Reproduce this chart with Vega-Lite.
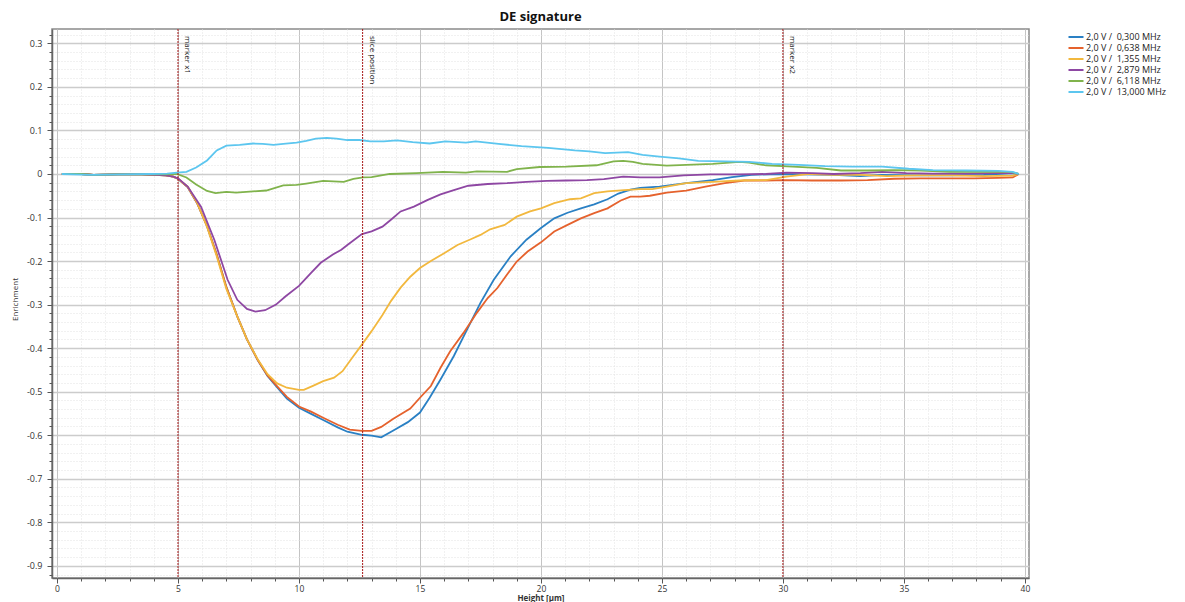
{
  "$schema": "https://vega.github.io/schema/vega-lite/v6.json",
  "width": 977,
  "height": 549,
  "autosize": "none",
  "padding": {"left": 52, "top": 29, "right": 156, "bottom": 24},
  "background": "white",
  "title": {"text": "DE signature", "fontSize": 13, "font": "Open Sans", "fontWeight": "bold", "color": "#111", "offset": 5, "anchor": "middle"},
  "config": {"view": {"stroke": "#8a8a8a", "strokeWidth": 1.5}, "font": "Open Sans"},
  "datasets": {
    "curves": [
      {"f":"0,300","x":0.2,"y":0},{"f":"0,300","x":1,"y":0},{"f":"0,300","x":1.5,"y":-0.002},{"f":"0,300","x":2.5,"y":-0.001},{"f":"0,300","x":3.5,"y":-0.001},{"f":"0,300","x":4,"y":-0.002},{"f":"0,300","x":4.5,"y":-0.003},{"f":"0,300","x":4.8,"y":-0.006},{"f":"0,300","x":5,"y":-0.011},{"f":"0,300","x":5.4,"y":-0.03},{"f":"0,300","x":5.8,"y":-0.068},{"f":"0,300","x":6.2,"y":-0.12},{"f":"0,300","x":6.6,"y":-0.185},{"f":"0,300","x":7,"y":-0.26},{"f":"0,300","x":7.45,"y":-0.327},{"f":"0,300","x":7.85,"y":-0.38},{"f":"0,300","x":8.3,"y":-0.428},{"f":"0,300","x":8.7,"y":-0.464},{"f":"0,300","x":9.1,"y":-0.49},{"f":"0,300","x":9.5,"y":-0.516},{"f":"0,300","x":10,"y":-0.537},{"f":"0,300","x":10.5,"y":-0.551},{"f":"0,300","x":11,"y":-0.565},{"f":"0,300","x":11.6,"y":-0.582},{"f":"0,300","x":12,"y":-0.592},{"f":"0,300","x":12.6,"y":-0.599},{"f":"0,300","x":13,"y":-0.601},{"f":"0,300","x":13.4,"y":-0.605},{"f":"0,300","x":13.9,"y":-0.589},{"f":"0,300","x":14.5,"y":-0.57},{"f":"0,300","x":15,"y":-0.548},{"f":"0,300","x":15.4,"y":-0.514},{"f":"0,300","x":15.85,"y":-0.472},{"f":"0,300","x":16.4,"y":-0.418},{"f":"0,300","x":16.95,"y":-0.357},{"f":"0,300","x":17.5,"y":-0.296},{"f":"0,300","x":18.05,"y":-0.243},{"f":"0,300","x":18.75,"y":-0.189},{"f":"0,300","x":19.4,"y":-0.151},{"f":"0,300","x":20,"y":-0.124},{"f":"0,300","x":20.55,"y":-0.102},{"f":"0,300","x":21.1,"y":-0.089},{"f":"0,300","x":21.65,"y":-0.079},{"f":"0,300","x":22.2,"y":-0.07},{"f":"0,300","x":22.75,"y":-0.058},{"f":"0,300","x":23.2,"y":-0.045},{"f":"0,300","x":23.7,"y":-0.036},{"f":"0,300","x":24.1,"y":-0.032},{"f":"0,300","x":24.9,"y":-0.029},{"f":"0,300","x":26,"y":-0.021},{"f":"0,300","x":27.1,"y":-0.014},{"f":"0,300","x":27.9,"y":-0.007},{"f":"0,300","x":28.7,"y":-0.002},{"f":"0,300","x":29.8,"y":0},{"f":"0,300","x":30.9,"y":-0.001},{"f":"0,300","x":32.1,"y":-0.002},{"f":"0,300","x":33.2,"y":-0.005},{"f":"0,300","x":34.1,"y":-0.002},{"f":"0,300","x":35.5,"y":-0.003},{"f":"0,300","x":36.9,"y":-0.003},{"f":"0,300","x":38.3,"y":-0.002},{"f":"0,300","x":39.5,"y":0.002},{"f":"0,300","x":39.75,"y":0},

      {"f":"0,638","x":0.2,"y":0},{"f":"0,638","x":1,"y":0},{"f":"0,638","x":1.5,"y":-0.002},{"f":"0,638","x":2.5,"y":-0.001},{"f":"0,638","x":3.5,"y":-0.001},{"f":"0,638","x":4,"y":-0.002},{"f":"0,638","x":4.5,"y":-0.003},{"f":"0,638","x":4.8,"y":-0.006},{"f":"0,638","x":5,"y":-0.011},{"f":"0,638","x":5.4,"y":-0.03},{"f":"0,638","x":5.8,"y":-0.068},{"f":"0,638","x":6.2,"y":-0.12},{"f":"0,638","x":6.6,"y":-0.185},{"f":"0,638","x":7,"y":-0.26},{"f":"0,638","x":7.45,"y":-0.327},{"f":"0,638","x":7.85,"y":-0.38},{"f":"0,638","x":8.3,"y":-0.428},{"f":"0,638","x":8.7,"y":-0.463},{"f":"0,638","x":9.1,"y":-0.488},{"f":"0,638","x":9.5,"y":-0.512},{"f":"0,638","x":10,"y":-0.534},{"f":"0,638","x":10.5,"y":-0.546},{"f":"0,638","x":11,"y":-0.56},{"f":"0,638","x":11.6,"y":-0.576},{"f":"0,638","x":12.1,"y":-0.587},{"f":"0,638","x":12.6,"y":-0.59},{"f":"0,638","x":13,"y":-0.59},{"f":"0,638","x":13.4,"y":-0.581},{"f":"0,638","x":13.9,"y":-0.562},{"f":"0,638","x":14.6,"y":-0.539},{"f":"0,638","x":15,"y":-0.514},{"f":"0,638","x":15.45,"y":-0.487},{"f":"0,638","x":15.85,"y":-0.445},{"f":"0,638","x":16.25,"y":-0.407},{"f":"0,638","x":16.8,"y":-0.365},{"f":"0,638","x":17.35,"y":-0.319},{"f":"0,638","x":17.8,"y":-0.285},{"f":"0,638","x":18.2,"y":-0.262},{"f":"0,638","x":18.6,"y":-0.231},{"f":"0,638","x":19,"y":-0.201},{"f":"0,638","x":19.45,"y":-0.178},{"f":"0,638","x":20,"y":-0.157},{"f":"0,638","x":20.55,"y":-0.132},{"f":"0,638","x":21.1,"y":-0.117},{"f":"0,638","x":21.65,"y":-0.102},{"f":"0,638","x":22.2,"y":-0.09},{"f":"0,638","x":22.75,"y":-0.079},{"f":"0,638","x":23.3,"y":-0.061},{"f":"0,638","x":23.7,"y":-0.052},{"f":"0,638","x":24.1,"y":-0.052},{"f":"0,638","x":24.5,"y":-0.05},{"f":"0,638","x":25.2,"y":-0.043},{"f":"0,638","x":26,"y":-0.038},{"f":"0,638","x":26.8,"y":-0.029},{"f":"0,638","x":27.6,"y":-0.021},{"f":"0,638","x":28.4,"y":-0.015},{"f":"0,638","x":29.3,"y":-0.015},{"f":"0,638","x":30.15,"y":-0.014},{"f":"0,638","x":31.2,"y":-0.015},{"f":"0,638","x":32.4,"y":-0.015},{"f":"0,638","x":33.5,"y":-0.014},{"f":"0,638","x":34.6,"y":-0.011},{"f":"0,638","x":35.7,"y":-0.01},{"f":"0,638","x":36.8,"y":-0.01},{"f":"0,638","x":37.9,"y":-0.01},{"f":"0,638","x":38.9,"y":-0.009},{"f":"0,638","x":39.5,"y":-0.008},{"f":"0,638","x":39.75,"y":0},

      {"f":"1,355","x":0.2,"y":0},{"f":"1,355","x":1,"y":0},{"f":"1,355","x":1.5,"y":-0.002},{"f":"1,355","x":2.5,"y":-0.001},{"f":"1,355","x":3.5,"y":-0.001},{"f":"1,355","x":4,"y":-0.002},{"f":"1,355","x":4.5,"y":-0.003},{"f":"1,355","x":4.8,"y":-0.006},{"f":"1,355","x":5,"y":-0.011},{"f":"1,355","x":5.4,"y":-0.029},{"f":"1,355","x":5.8,"y":-0.067},{"f":"1,355","x":6.2,"y":-0.121},{"f":"1,355","x":6.6,"y":-0.189},{"f":"1,355","x":7,"y":-0.264},{"f":"1,355","x":7.45,"y":-0.327},{"f":"1,355","x":7.85,"y":-0.38},{"f":"1,355","x":8.3,"y":-0.426},{"f":"1,355","x":8.7,"y":-0.46},{"f":"1,355","x":9.1,"y":-0.481},{"f":"1,355","x":9.5,"y":-0.491},{"f":"1,355","x":10,"y":-0.496},{"f":"1,355","x":10.2,"y":-0.496},{"f":"1,355","x":10.6,"y":-0.486},{"f":"1,355","x":11,"y":-0.476},{"f":"1,355","x":11.45,"y":-0.468},{"f":"1,355","x":11.8,"y":-0.453},{"f":"1,355","x":12.2,"y":-0.422},{"f":"1,355","x":12.6,"y":-0.392},{"f":"1,355","x":13,"y":-0.361},{"f":"1,355","x":13.45,"y":-0.324},{"f":"1,355","x":13.8,"y":-0.292},{"f":"1,355","x":14.2,"y":-0.261},{"f":"1,355","x":14.6,"y":-0.236},{"f":"1,355","x":15,"y":-0.216},{"f":"1,355","x":15.45,"y":-0.2},{"f":"1,355","x":16,"y":-0.182},{"f":"1,355","x":16.55,"y":-0.163},{"f":"1,355","x":17.1,"y":-0.15},{"f":"1,355","x":17.5,"y":-0.14},{"f":"1,355","x":17.9,"y":-0.127},{"f":"1,355","x":18.5,"y":-0.117},{"f":"1,355","x":19,"y":-0.098},{"f":"1,355","x":19.55,"y":-0.086},{"f":"1,355","x":20,"y":-0.079},{"f":"1,355","x":20.55,"y":-0.067},{"f":"1,355","x":21.2,"y":-0.058},{"f":"1,355","x":21.65,"y":-0.056},{"f":"1,355","x":22.2,"y":-0.044},{"f":"1,355","x":22.75,"y":-0.04},{"f":"1,355","x":23.45,"y":-0.037},{"f":"1,355","x":24.1,"y":-0.035},{"f":"1,355","x":24.6,"y":-0.035},{"f":"1,355","x":25.2,"y":-0.029},{"f":"1,355","x":26,"y":-0.021},{"f":"1,355","x":27.1,"y":-0.018},{"f":"1,355","x":28.2,"y":-0.015},{"f":"1,355","x":29.3,"y":-0.014},{"f":"1,355","x":30.15,"y":-0.006},{"f":"1,355","x":31.1,"y":0},{"f":"1,355","x":32.1,"y":-0.002},{"f":"1,355","x":33.2,"y":-0.002},{"f":"1,355","x":34.3,"y":-0.005},{"f":"1,355","x":35.5,"y":-0.003},{"f":"1,355","x":36.9,"y":-0.003},{"f":"1,355","x":38.3,"y":-0.005},{"f":"1,355","x":39.5,"y":-0.004},{"f":"1,355","x":39.75,"y":0},

      {"f":"2,879","x":0.2,"y":0},{"f":"2,879","x":1,"y":0},{"f":"2,879","x":1.5,"y":-0.002},{"f":"2,879","x":2.5,"y":-0.001},{"f":"2,879","x":3.5,"y":-0.001},{"f":"2,879","x":4,"y":-0.002},{"f":"2,879","x":4.5,"y":-0.003},{"f":"2,879","x":4.8,"y":-0.006},{"f":"2,879","x":5,"y":-0.01},{"f":"2,879","x":5.4,"y":-0.029},{"f":"2,879","x":5.95,"y":-0.075},{"f":"2,879","x":6.5,"y":-0.151},{"f":"2,879","x":7.05,"y":-0.243},{"f":"2,879","x":7.45,"y":-0.289},{"f":"2,879","x":7.85,"y":-0.31},{"f":"2,879","x":8.2,"y":-0.316},{"f":"2,879","x":8.6,"y":-0.313},{"f":"2,879","x":9.05,"y":-0.3},{"f":"2,879","x":9.45,"y":-0.281},{"f":"2,879","x":10,"y":-0.257},{"f":"2,879","x":10.5,"y":-0.227},{"f":"2,879","x":10.9,"y":-0.204},{"f":"2,879","x":11.4,"y":-0.185},{"f":"2,879","x":11.75,"y":-0.174},{"f":"2,879","x":12,"y":-0.163},{"f":"2,879","x":12.6,"y":-0.138},{"f":"2,879","x":13,"y":-0.132},{"f":"2,879","x":13.45,"y":-0.121},{"f":"2,879","x":13.8,"y":-0.105},{"f":"2,879","x":14.2,"y":-0.086},{"f":"2,879","x":14.75,"y":-0.075},{"f":"2,879","x":15.3,"y":-0.06},{"f":"2,879","x":15.85,"y":-0.047},{"f":"2,879","x":16.4,"y":-0.037},{"f":"2,879","x":17,"y":-0.027},{"f":"2,879","x":17.8,"y":-0.023},{"f":"2,879","x":18.6,"y":-0.021},{"f":"2,879","x":19.4,"y":-0.018},{"f":"2,879","x":20.25,"y":-0.016},{"f":"2,879","x":21.05,"y":-0.015},{"f":"2,879","x":21.9,"y":-0.014},{"f":"2,879","x":22.6,"y":-0.012},{"f":"2,879","x":23.4,"y":-0.006},{"f":"2,879","x":24.1,"y":-0.008},{"f":"2,879","x":24.9,"y":-0.008},{"f":"2,879","x":25.9,"y":-0.003},{"f":"2,879","x":27,"y":-0.001},{"f":"2,879","x":28.2,"y":-0.001},{"f":"2,879","x":29.3,"y":0},{"f":"2,879","x":30.15,"y":0.003},{"f":"2,879","x":31.2,"y":0.002},{"f":"2,879","x":32.1,"y":0},{"f":"2,879","x":33.2,"y":0.002},{"f":"2,879","x":34.1,"y":0.005},{"f":"2,879","x":35.1,"y":0.002},{"f":"2,879","x":36.2,"y":0.001},{"f":"2,879","x":37.6,"y":0.001},{"f":"2,879","x":38.9,"y":0.002},{"f":"2,879","x":39.5,"y":0.002},{"f":"2,879","x":39.75,"y":0},

      {"f":"6,118","x":0.2,"y":0},{"f":"6,118","x":1,"y":0},{"f":"6,118","x":1.5,"y":-0.002},{"f":"6,118","x":2.5,"y":-0.001},{"f":"6,118","x":3.5,"y":-0.001},{"f":"6,118","x":4.5,"y":-0.001},{"f":"6,118","x":4.95,"y":0},{"f":"6,118","x":5.35,"y":-0.008},{"f":"6,118","x":5.75,"y":-0.024},{"f":"6,118","x":6.2,"y":-0.039},{"f":"6,118","x":6.55,"y":-0.044},{"f":"6,118","x":7,"y":-0.041},{"f":"6,118","x":7.4,"y":-0.043},{"f":"6,118","x":8.1,"y":-0.04},{"f":"6,118","x":8.65,"y":-0.038},{"f":"6,118","x":9.35,"y":-0.026},{"f":"6,118","x":9.9,"y":-0.025},{"f":"6,118","x":10.3,"y":-0.022},{"f":"6,118","x":11,"y":-0.016},{"f":"6,118","x":11.85,"y":-0.018},{"f":"6,118","x":12.25,"y":-0.011},{"f":"6,118","x":12.65,"y":-0.008},{"f":"6,118","x":13,"y":-0.007},{"f":"6,118","x":13.75,"y":0},{"f":"6,118","x":14.85,"y":0.002},{"f":"6,118","x":15.95,"y":0.005},{"f":"6,118","x":16.9,"y":0.003},{"f":"6,118","x":17.35,"y":0.006},{"f":"6,118","x":18.6,"y":0.005},{"f":"6,118","x":19,"y":0.011},{"f":"6,118","x":19.95,"y":0.016},{"f":"6,118","x":21.05,"y":0.017},{"f":"6,118","x":22.3,"y":0.02},{"f":"6,118","x":23,"y":0.029},{"f":"6,118","x":23.4,"y":0.03},{"f":"6,118","x":23.8,"y":0.028},{"f":"6,118","x":24.2,"y":0.023},{"f":"6,118","x":25.2,"y":0.019},{"f":"6,118","x":26,"y":0.021},{"f":"6,118","x":27.1,"y":0.023},{"f":"6,118","x":28.2,"y":0.028},{"f":"6,118","x":28.6,"y":0.026},{"f":"6,118","x":29.3,"y":0.02},{"f":"6,118","x":30.4,"y":0.017},{"f":"6,118","x":31.4,"y":0.014},{"f":"6,118","x":32.4,"y":0.008},{"f":"6,118","x":33.5,"y":0.008},{"f":"6,118","x":34.6,"y":0.009},{"f":"6,118","x":35.7,"y":0.008},{"f":"6,118","x":36.9,"y":0.005},{"f":"6,118","x":38.3,"y":0.005},{"f":"6,118","x":39.4,"y":0.005},{"f":"6,118","x":39.75,"y":0},

      {"f":"13,000","x":0.2,"y":0},{"f":"13,000","x":1.4,"y":-0.002},{"f":"13,000","x":3.85,"y":0},{"f":"13,000","x":4.55,"y":0.001},{"f":"13,000","x":4.95,"y":0.003},{"f":"13,000","x":5.35,"y":0.005},{"f":"13,000","x":5.75,"y":0.015},{"f":"13,000","x":6.2,"y":0.031},{"f":"13,000","x":6.6,"y":0.054},{"f":"13,000","x":7,"y":0.065},{"f":"13,000","x":7.55,"y":0.067},{"f":"13,000","x":8.1,"y":0.07},{"f":"13,000","x":8.5,"y":0.069},{"f":"13,000","x":8.95,"y":0.067},{"f":"13,000","x":9.35,"y":0.069},{"f":"13,000","x":9.9,"y":0.072},{"f":"13,000","x":10.3,"y":0.076},{"f":"13,000","x":10.7,"y":0.081},{"f":"13,000","x":11.15,"y":0.083},{"f":"13,000","x":11.55,"y":0.081},{"f":"13,000","x":12,"y":0.078},{"f":"13,000","x":12.5,"y":0.078},{"f":"13,000","x":12.95,"y":0.075},{"f":"13,000","x":13.5,"y":0.075},{"f":"13,000","x":14.05,"y":0.077},{"f":"13,000","x":14.7,"y":0.073},{"f":"13,000","x":15.4,"y":0.07},{"f":"13,000","x":16.05,"y":0.075},{"f":"13,000","x":16.9,"y":0.072},{"f":"13,000","x":17.3,"y":0.075},{"f":"13,000","x":18.25,"y":0.069},{"f":"13,000","x":19.2,"y":0.064},{"f":"13,000","x":20.3,"y":0.06},{"f":"13,000","x":21.4,"y":0.054},{"f":"13,000","x":22,"y":0.052},{"f":"13,000","x":22.65,"y":0.048},{"f":"13,000","x":23.6,"y":0.05},{"f":"13,000","x":24.2,"y":0.044},{"f":"13,000","x":24.9,"y":0.04},{"f":"13,000","x":25.7,"y":0.036},{"f":"13,000","x":26.5,"y":0.03},{"f":"13,000","x":27.6,"y":0.029},{"f":"13,000","x":28.6,"y":0.028},{"f":"13,000","x":29.55,"y":0.023},{"f":"13,000","x":30.65,"y":0.021},{"f":"13,000","x":31.75,"y":0.018},{"f":"13,000","x":32.85,"y":0.017},{"f":"13,000","x":34.1,"y":0.017},{"f":"13,000","x":35.2,"y":0.012},{"f":"13,000","x":36.2,"y":0.009},{"f":"13,000","x":37.6,"y":0.008},{"f":"13,000","x":38.9,"y":0.007},{"f":"13,000","x":39.5,"y":0.005},{"f":"13,000","x":39.75,"y":0}
    ],
    "markers": [
      {"x": 5, "label": "marker x1"},
      {"x": 12.63, "label": "slice position"},
      {"x": 30, "label": "marker x2"}
    ]
  },
  "layer": [
    {
      "data": {"name": "curves"},
      "mark": {"type": "line", "strokeWidth": 1.8, "interpolate": "linear"},
      "encoding": {
        "x": {
          "field": "x", "type": "quantitative",
          "scale": {"domain": [-0.207, 40.17], "nice": false, "zero": false},
          "axis": {
            "title": "Height [µm]",
            "values": [0,1,2,3,4,5,6,7,8,9,10,11,12,13,14,15,16,17,18,19,20,21,22,23,24,25,26,27,28,29,30,31,32,33,34,35,36,37,38,39,40],
            "tickCount": 200,
            "labelExpr": "datum.value % 5 === 0 ? toString(datum.value) : ''",
            "labelOverlap": false,
            "labelFlush": false,
            "labelFontSize": 8.5,
            "labelColor": "#333",
            "labelPadding": 1,
            "tickSize": {"condition": {"test": "datum.value % 5 === 0", "value": 5}, "value": 3},
            "tickColor": "#555",
            "domainColor": "#666",
            "domainWidth": 1.5,
            "grid": true,
            "gridColor": {"condition": {"test": "datum.value % 5 === 0", "value": "#c4c4c4"}, "value": "#e2e2e2"},
            "gridDash": {"condition": {"test": "datum.value % 5 === 0", "value": []}, "value": [1, 2]},
            "gridWidth": 1,
            "titleFontSize": 8,
            "titleFontWeight": "bold",
            "titleColor": "#333",
            "titleBaseline": "alphabetic",
            "titleY": 22
          }
        },
        "y": {
          "field": "y", "type": "quantitative",
          "scale": {"domain": [-0.928, 0.333], "nice": false, "zero": false},
          "axis": {
            "title": "Enrichment",
            "values": [-0.92,-0.9,-0.88,-0.86,-0.84,-0.82,-0.8,-0.78,-0.76,-0.74,-0.72,-0.7,-0.68,-0.66,-0.64,-0.62,-0.6,-0.58,-0.56,-0.54,-0.52,-0.5,-0.48,-0.46,-0.44,-0.42,-0.4,-0.38,-0.36,-0.34,-0.32,-0.3,-0.28,-0.26,-0.24,-0.22,-0.2,-0.18,-0.16,-0.14,-0.12,-0.1,-0.08,-0.06,-0.04,-0.02,0,0.02,0.04,0.06,0.08,0.1,0.12,0.14,0.16,0.18,0.2,0.22,0.24,0.26,0.28,0.3,0.32],
            "tickCount": 200,
            "labelExpr": "abs(round(datum.value*100)) % 10 === 0 ? toString(round(datum.value*10)/10) : ''",
            "labelOverlap": false,
            "labelFlush": false,
            "labelFontSize": 9,
            "labelColor": "#333",
            "labelPadding": 5,
            "tickSize": {"condition": {"test": "abs(round(datum.value*100)) % 10 === 0", "value": 5}, "value": 3},
            "tickColor": "#555",
            "domainColor": "#666",
            "domainWidth": 1.5,
            "grid": true,
            "gridColor": {"condition": {"test": "abs(round(datum.value*100)) % 10 === 0", "value": "#cccccc"}, "value": "#e2e2e2"},
            "gridDash": {"condition": {"test": "abs(round(datum.value*100)) % 10 === 0", "value": []}, "value": [1, 2]},
            "gridWidth": {"condition": {"test": "abs(round(datum.value*100)) % 10 === 0", "value": 1.5}, "value": 1},
            "titleFontSize": 8,
            "titleFontWeight": "normal",
            "titleColor": "#333",
            "titleAngle": -90,
            "titleBaseline": "middle",
            "titleX": -37,
            "titleY": 270
          }
        },
        "color": {
          "field": "f", "type": "nominal",
          "scale": {
            "domain": ["0,300", "0,638", "1,355", "2,879", "6,118", "13,000"],
            "range": ["#2a80c4", "#e5622d", "#f2b83e", "#8e47a3", "#80b34c", "#5cc6ef"]
          },
          "legend": {
            "title": null,
            "orient": "none",
            "legendX": 1018,
            "legendY": 2,
            "labelExpr": "'2,0 V /\u00a0 ' + datum.label + ' MHz'",
            "labelFontSize": 9,
            "labelColor": "#222",
            "symbolType": "M-1.5,0L1.5,0",
            "symbolSize": 100,
            "symbolStrokeWidth": 2,
            "rowPadding": 0,
            "labelOffset": 4
          }
        }
      }
    },
    {
      "data": {"name": "markers"},
      "mark": {"type": "rule", "color": "#a81818", "strokeWidth": 1, "strokeDash": [2, 1]},
      "encoding": {"x": {"field": "x", "type": "quantitative"}}
    },
    {
      "data": {"name": "markers"},
      "mark": {"type": "text", "angle": 90, "align": "left", "baseline": "alphabetic", "fontSize": 8, "color": "#111", "dy": -7},
      "encoding": {
        "x": {"field": "x", "type": "quantitative"},
        "y": {"datum": 0.317},
        "text": {"field": "label"}
      }
    }
  ]
}
